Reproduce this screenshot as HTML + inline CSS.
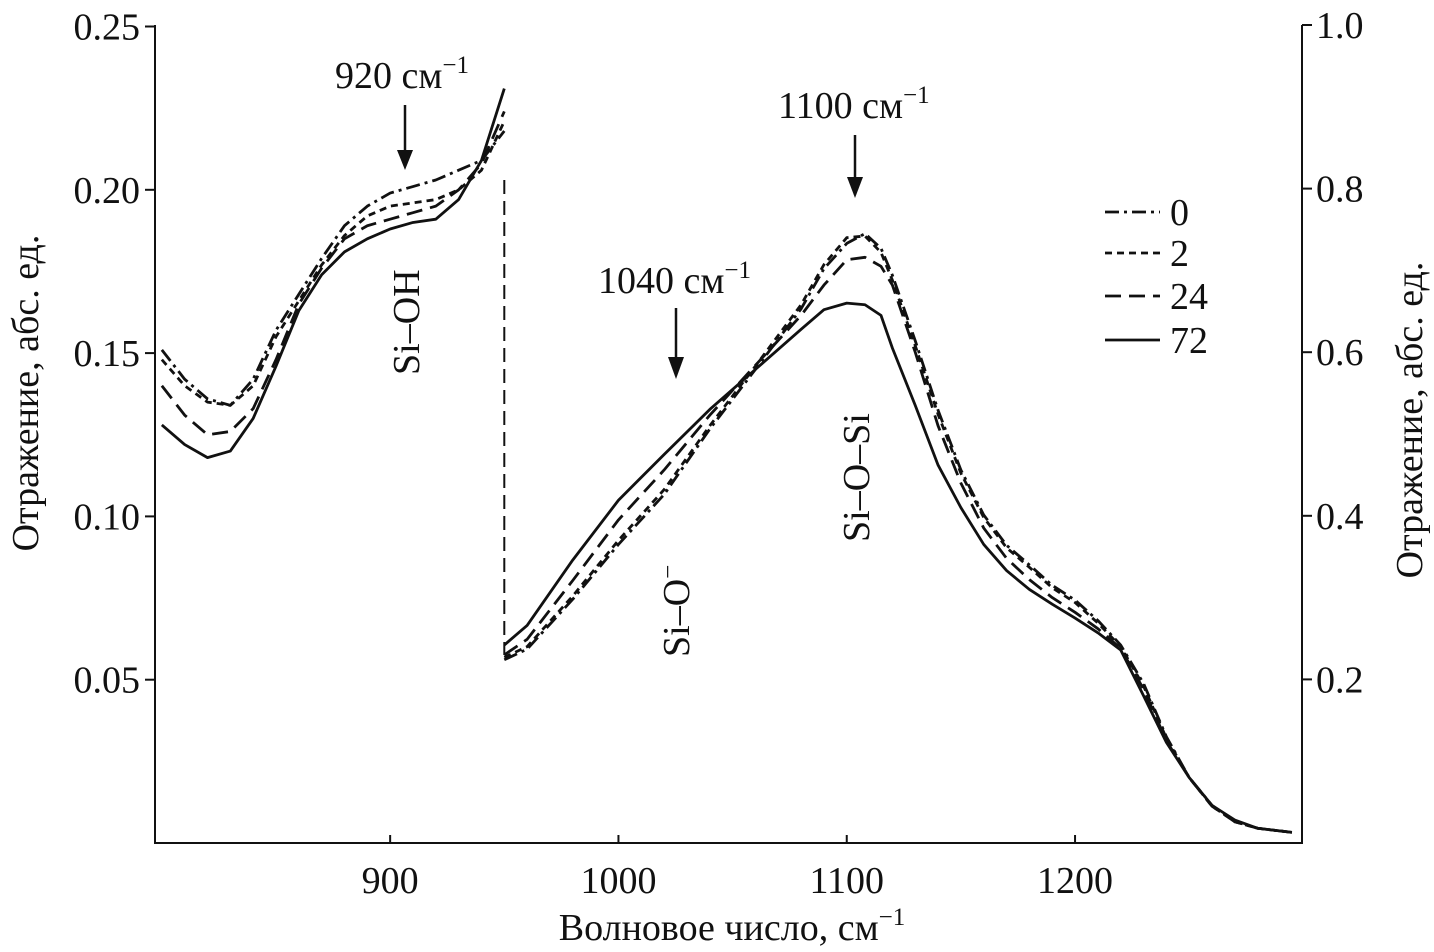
<!DOCTYPE html>
<html><head><meta charset="utf-8"><style>
body{margin:0;background:#fff}
svg{display:block;font-family:"Liberation Serif","DejaVu Serif",serif}
</style></head><body>
<svg id="chart" width="1434" height="952" viewBox="0 0 1434 952" xmlns="http://www.w3.org/2000/svg">
<g id="axes"></g>
<g id="series"></g>
<g id="annot" font-size="38" fill="#111">
<text x="335" y="88">920 см<tspan font-size="25" dy="-15">−1</tspan></text>
<text x="778" y="118">1100 см<tspan font-size="25" dy="-15">−1</tspan></text>
<text x="598" y="293">1040 см<tspan font-size="25" dy="-15">−1</tspan></text>
<text transform="translate(419,375) rotate(-90)">Si–OH</text>
<text transform="translate(869,542) rotate(-90)">Si–O–Si</text>
<text transform="translate(689,657) rotate(-90)">Si–O<tspan font-size="25" dy="-13">−</tspan></text>
<g stroke="#111" stroke-width="2.5" fill="#111">
<line x1="405" y1="105" x2="405" y2="155"/><polygon points="397,150 413,150 405,170" stroke="none"/>
<line x1="855" y1="135" x2="855" y2="182"/><polygon points="847,177 863,177 855,198" stroke="none"/>
<line x1="676" y1="308" x2="676" y2="362"/><polygon points="668,357 684,357 676,379" stroke="none"/>
</g>
</g>
<g id="legend" font-size="38"></g>
</svg>
<script>
const NS="http://www.w3.org/2000/svg";
const xTicks=[900,1000,1100,1200];
const yLeftTicks=[0.05,0.10,0.15,0.20,0.25];
const yRightTicks=[0.2,0.4,0.6,0.8,1.0];
const seriesNames=["0","2","24","72"];
const dashes=["14,5,3,5","7,5","16,8",""];
const leftX=[800,810,820,830,840,850,860,870,880,890,900,910,920,930,940,950];
const left0=[0.151,0.142,0.136,0.134,0.142,0.157,0.168,0.179,0.189,0.195,0.199,0.201,0.203,0.206,0.209,0.218];
const left2=[0.148,0.140,0.135,0.134,0.140,0.155,0.166,0.177,0.186,0.192,0.195,0.196,0.197,0.200,0.206,0.221];
const left24=[0.140,0.131,0.125,0.126,0.133,0.148,0.165,0.176,0.185,0.189,0.191,0.193,0.195,0.200,0.208,0.224];
const left72=[0.128,0.122,0.118,0.120,0.130,0.146,0.163,0.174,0.181,0.185,0.188,0.190,0.191,0.197,0.209,0.231];
const rightX=[950,960,980,1000,1020,1040,1060,1080,1090,1100,1108,1115,1120,1130,1140,1150,1160,1170,1180,1190,1200,1210,1220,1230,1240,1250,1260,1270,1280,1295];
const right0=[0.224,0.237,0.298,0.365,0.426,0.506,0.579,0.653,0.702,0.733,0.745,0.727,0.694,0.614,0.529,0.456,0.401,0.364,0.340,0.315,0.297,0.272,0.242,0.195,0.130,0.080,0.046,0.026,0.018,0.013];
const right2=[0.227,0.240,0.302,0.370,0.432,0.510,0.583,0.658,0.707,0.740,0.742,0.722,0.688,0.608,0.524,0.452,0.398,0.361,0.337,0.312,0.294,0.269,0.240,0.192,0.128,0.080,0.045,0.026,0.018,0.013];
const right24=[0.230,0.249,0.321,0.395,0.456,0.523,0.584,0.645,0.682,0.713,0.716,0.705,0.682,0.600,0.510,0.440,0.385,0.348,0.322,0.300,0.282,0.262,0.238,0.188,0.125,0.080,0.045,0.026,0.018,0.013];
const right72=[0.242,0.266,0.346,0.419,0.475,0.530,0.579,0.628,0.652,0.660,0.658,0.645,0.605,0.535,0.462,0.410,0.365,0.333,0.310,0.292,0.275,0.257,0.236,0.180,0.123,0.080,0.046,0.028,0.018,0.013];
const X=v=>155+(v-797)*2.283;
const YL=v=>843-v*3266;
const YR=v=>843-v*818;
function mk(tag,attrs,parent){const e=document.createElementNS(NS,tag);for(const k in attrs)e.setAttribute(k,attrs[k]);parent.appendChild(e);return e;}
const ax=document.getElementById('axes');
const frame=mk('path',{d:'M155,25 V843 H1302 V25',fill:'none',stroke:'#111','stroke-width':2},ax);


xTicks.forEach(t=>{
 const l=mk('line',{x1:X(t),x2:X(t),y1:843,y2:835,stroke:'#111','stroke-width':2},ax);
 
 
 const tx=mk('text',{x:X(t),y:893,'font-size':38,'text-anchor':'middle',fill:'#111'},ax);tx.textContent=t;
 
 
});
yLeftTicks.forEach(t=>{
 const l=mk('line',{x1:155,x2:145,y1:YL(t),y2:YL(t),stroke:'#111','stroke-width':2},ax);
 
 
 const tx=mk('text',{x:140,y:YL(t)+13,'font-size':38,'text-anchor':'end',fill:'#111'},ax);tx.textContent=t.toFixed(2);
 
 
});
yRightTicks.forEach(t=>{
 const l=mk('line',{x1:1302,x2:1312,y1:YR(t),y2:YR(t),stroke:'#111','stroke-width':2},ax);
 
 
 const tx=mk('text',{x:1316,y:YR(t)+13,'font-size':38,fill:'#111'},ax);tx.textContent=t.toFixed(1);
 
 
});
let t1=mk('text',{x:732,y:940,'font-size':38,'text-anchor':'middle',fill:'#111'},ax);
t1.innerHTML='Волновое число, см<tspan font-size="25" dy="-15">−1</tspan>';


let t2=mk('text',{transform:'translate(38,393) rotate(-90)','font-size':38,'text-anchor':'middle',fill:'#111'},ax);
t2.textContent='Отражение, абс. ед.';


let t3=mk('text',{transform:'translate(1422,420) rotate(-90)','font-size':38,'text-anchor':'middle',fill:'#111'},ax);
t3.textContent='Отражение, абс. ед.';


const dv=mk('line',{x1:X(950),x2:X(950),y1:180,y2:655,stroke:'#111','stroke-width':2,'stroke-dasharray':'14,7'},ax);


const sg=document.getElementById('series');
const L=[left0,left2,left24,left72],R=[right0,right2,right24,right72];
seriesNames.forEach((n,i)=>{
 const d1='M'+leftX.map((x,j)=>X(x)+','+YL(L[i][j])).join(' L');
 const p1=mk('path',{d:d1,fill:'none',stroke:'#111','stroke-width':2.8,'stroke-dasharray':dashes[i],'stroke-linejoin':'round'},sg);
 
 
 const d2='M'+rightX.map((x,j)=>X(x)+','+YR(R[i][j])).join(' L');
 const p2=mk('path',{d:d2,fill:'none',stroke:'#111','stroke-width':2.8,'stroke-dasharray':dashes[i],'stroke-linejoin':'round'},sg);
 
 
});
const lg=document.getElementById('legend');
[212,253,296,340].forEach((y,i)=>{
 const l=mk('line',{x1:1105,x2:1160,y1:y,y2:y,stroke:'#111','stroke-width':2.8,'stroke-dasharray':dashes[i]},lg);
 
 
 const t=mk('text',{x:1170,y:y+13,fill:'#111'},lg);t.textContent=seriesNames[i];
 
 
});
</script>
</body></html>
